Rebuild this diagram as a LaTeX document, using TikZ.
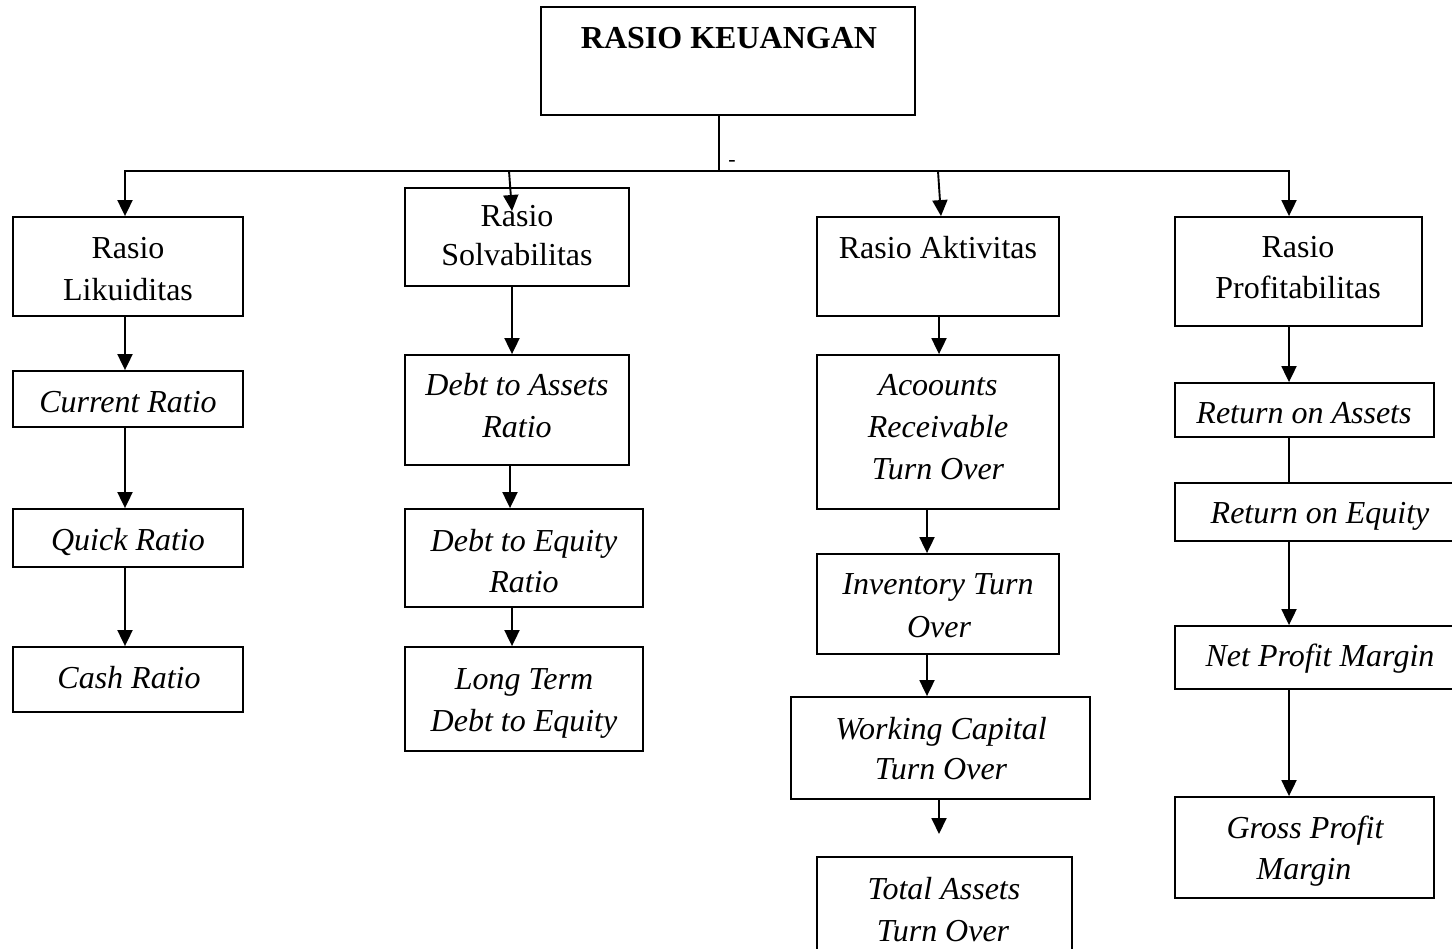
\documentclass[tikz,border=0pt]{standalone}
\usepackage{fontspec}
\setmainfont{Liberation Serif}
\usetikzlibrary{arrows.meta,fit}
\begin{document}
\begin{tikzpicture}[x=1pt,y=-1pt,
  box/.style={draw, line width=1.8pt, inner sep=0pt},
  ln/.style={line width=1.9pt},
  arr/.style={line width=1.9pt, -{Triangle[width=15pt,length=16pt]}},
  up/.style={anchor=base, inner sep=0pt, font=\fontsize{32}{38}\selectfont},
  it/.style={anchor=base, inner sep=0pt, font=\fontsize{32}{38}\selectfont\itshape},
  bf/.style={anchor=base, inner sep=0pt, font=\fontsize{32}{38}\selectfont\bfseries},
  sm/.style={anchor=base, inner sep=0pt, font=\fontsize{22}{24}\selectfont}]
\clip (0,0) rectangle (1452,949);
\fill[white] (0,0) rectangle (1452,949);
% boxes
\node[box, fit={(541,7) (915,115)}] (top) {};
\node[box, fit={(13,217) (243,316)}] (lik) {};
\node[box, fit={(13,371) (243,427)}] (cur) {};
\node[box, fit={(13,509) (243,567)}] (qui) {};
\node[box, fit={(13,647) (243,712)}] (cas) {};
\node[box, fit={(405,188) (629,286)}] (sol) {};
\node[box, fit={(405,355) (629,465)}] (dta) {};
\node[box, fit={(405,509) (643,607)}] (dte) {};
\node[box, fit={(405,647) (643,751)}] (ltd) {};
\node[box, fit={(817,217) (1059,316)}] (akt) {};
\node[box, fit={(817,355) (1059,509)}] (art) {};
\node[box, fit={(817,554) (1059,654)}] (itv) {};
\node[box, fit={(791,697) (1090,799)}] (wct) {};
\node[box, fit={(817,857) (1072,962)}] (tat) {};
\node[box, fit={(1175,217) (1422,326)}] (pro) {};
\node[box, fit={(1175,383) (1434,437)}] (roa) {};
\node[box, fit={(1175,483) (1466,541)}] (roe) {};
\node[box, fit={(1175,626) (1466,689)}] (npm) {};
\node[box, fit={(1175,797) (1434,898)}] (gpm) {};
% texts
\node[bf] (ttop) at (729,49) {RASIO KEUANGAN};
\node[sm] (tdash) at (732,167) {-};
\node[up] (tlik1) at (128,259) {Rasio};
\node[up] (tlik2) at (128,301) {Likuiditas};
\node[it] (tcur) at (128,413) {Current Ratio};
\node[it] (tqui) at (128,550) {Quick Ratio};
\node[it] (tcas) at (129,688) {Cash Ratio};
\node[up] (tsol1) at (517,227) {Rasio};
\node[up] (tsol2) at (517,266) {Solvabilitas};
\node[it] (tdta1) at (517,396) {Debt to Assets};
\node[it] (tdta2) at (517,438) {Ratio};
\node[it] (tdte1) at (524,551) {Debt to Equity};
\node[it] (tdte2) at (524,592) {Ratio};
\node[it] (tltd1) at (524,689) {Long Term};
\node[it] (tltd2) at (524,731) {Debt to Equity};
\node[up] (takt) at (938,259) {Rasio Aktivitas};
\node[it] (tart1) at (938,396) {Acoounts};
\node[it] (tart2) at (938,438) {Receivable};
\node[it] (tart3) at (938,479) {Turn Over};
\node[it] (titv1) at (938,594) {Inventory Turn};
\node[it] (titv2) at (939,637) {Over};
\node[it] (twct1) at (941,739) {Working Capital};
\node[it] (twct2) at (941,779) {Turn Over};
\node[it] (ttat1) at (944,899) {Total Assets};
\node[it] (ttat2) at (943,941) {Turn Over};
\node[up] (tpro1) at (1298,258) {Rasio};
\node[up] (tpro2) at (1298,299) {Profitabilitas};
\node[it] (troa) at (1304,424) {Return on Assets};
\node[it] (troe) at (1320,524) {Return on Equity};
\node[it] (tnpm) at (1320,666) {Net Profit Margin};
\node[it] (tgpm1) at (1305,838) {Gross Profit};
\node[it] (tgpm2) at (1304,879) {Margin};
% coordinates
\coordinate (busL) at (125,171);
\coordinate (busR) at (1289,171);
\coordinate (busM) at (719,171);
\coordinate (bus2) at (509,171);
\coordinate (bus3) at (938,171);
\coordinate (soltip) at (512,211);
\coordinate (x941) at (941,0);
\coordinate (x125) at (125,0);
\coordinate (x512) at (512,0);
\coordinate (x510) at (510,0);
\coordinate (x939) at (939,0);
\coordinate (x927) at (927,0);
\coordinate (x1289) at (1289,0);
\coordinate (tattip) at (939,834);
% connectors
\draw[ln] (top.south -| busM) -- (busM);
\draw[ln] ([xshift=-0.95pt]busL) -- ([xshift=0.95pt]busR);
\draw[arr] (busL) -- (lik.north -| busL);
\draw[arr] (bus2) -- (soltip);
\draw[arr] (bus3) -- (akt.north -| x941);
\draw[arr] (busR) -- (pro.north -| busR);
\draw[arr] (lik.south -| x125) -- (cur.north -| x125);
\draw[arr] (cur.south -| x125) -- (qui.north -| x125);
\draw[arr] (qui.south -| x125) -- (cas.north -| x125);
\draw[arr] (sol.south -| x512) -- (dta.north -| x512);
\draw[arr] (dta.south -| x510) -- (dte.north -| x510);
\draw[arr] (dte.south -| x512) -- (ltd.north -| x512);
\draw[arr] (akt.south -| x939) -- (art.north -| x939);
\draw[arr] (art.south -| x927) -- (itv.north -| x927);
\draw[arr] (itv.south -| x927) -- (wct.north -| x927);
\draw[arr] (wct.south -| x939) -- (tattip);
\draw[arr] (pro.south -| x1289) -- (roa.north -| x1289);
\draw[ln] (roa.south -| x1289) -- (roe.north -| x1289);
\draw[arr] (roe.south -| x1289) -- (npm.north -| x1289);
\draw[arr] (npm.south -| x1289) -- (gpm.north -| x1289);
\end{tikzpicture}
\end{document}
